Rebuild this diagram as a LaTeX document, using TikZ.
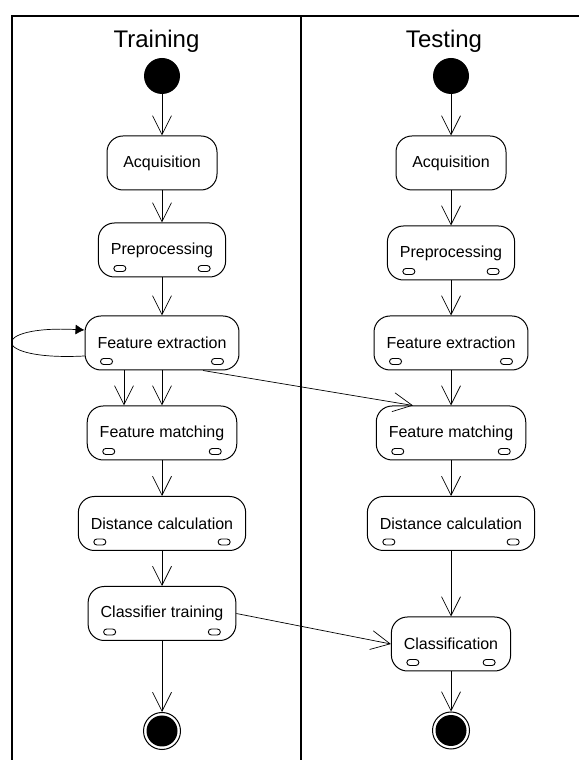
\documentclass[tikz,border=0pt]{standalone}
\usepackage{fontspec}
\setmainfont{Liberation Sans}
\usetikzlibrary{positioning,arrows.meta}
\tikzstyle{line} = [draw, line width=0.7pt, -{Straight Barb[length=19pt,width=19pt]}]
\tikzstyle{loopline} = [draw, line width=0.7pt, -{Latex[length=9pt,width=10pt]}]
\tikzstyle{activity} = [rectangle, draw, line width=1pt, rounded corners=16pt, minimum width=110pt, minimum height=54pt, inner xsep=12.5pt, font=\fontsize{16}{19}\selectfont, node distance=87pt]
\tikzstyle{startnode} = [circle, fill=black, minimum size=36pt, inner sep=0pt]
\tikzstyle{endnode} = [circle, draw, line width=1pt, minimum size=37pt, inner sep=0pt, path picture={\fill (path picture bounding box.center) circle (15.5pt);}]
\tikzstyle{lane} = [draw, line width=1.1pt]
\tikzstyle{title} = [anchor=base, font=\fontsize{24}{28}\selectfont]
\newcommand{\pins}[1]{%
  \draw[line width=0.9pt, rounded corners=3pt] ([shift={(16pt,6pt)}]#1.south west) rectangle +(12pt,6pt);
  \draw[line width=0.9pt, rounded corners=3pt] ([shift={(-28pt,6pt)}]#1.south east) rectangle +(12pt,6pt);}
\begin{document}
\begin{tikzpicture}[x=1pt, y=1pt]
		\useasboundingbox (0,0) rectangle (579,760);
		% swimlanes
		\path [lane] (12,0) -- (12,744) -- (579,744);
		\path [lane] (301,0) -- (301,744);
		\node [title] (trainTitle) at (156.5,712) {Training};
		\node [title] (testTitle) at (444,712) {Testing};
		
		% training column
		\node [startnode] (startL) at (162,684) {};
		\node [activity, below of=startL] (acqL) {Acquisition};
		\node [activity, below of=acqL] (prepL) {Preprocessing};
		\node [activity, below of=prepL, node distance=93pt] (featL) {Feature extraction};
		\node [activity, below of=featL, node distance=90pt] (matchL) {Feature matching};
		\node [activity, below of=matchL, node distance=90.5pt] (distL) {Distance calculation};
		\node [activity, below of=distL, node distance=90pt] (trainL) {Classifier training};
		\node [endnode, below of=trainL, node distance=117.5pt] (endL) {};
		
		% testing column
		\node [startnode] (startR) at (451,684) {};
		\node [activity, below of=startR] (acqR) {Acquisition};
		\node [activity, below of=acqR, node distance=90pt] (prepR) {Preprocessing};
		\node [activity, below of=prepR, node distance=90pt] (featR) {Feature extraction};
		\node [activity, below of=featR, node distance=90pt] (matchR) {Feature matching};
		\node [activity, below of=matchR, node distance=90.5pt] (distR) {Distance calculation};
		\node [activity, below of=distR, node distance=120.5pt] (classR) {Classification};
		\node [endnode, below of=classR, node distance=86.5pt] (endR) {};
		
		\foreach \n in {prepL,featL,matchL,distL,trainL,prepR,featR,matchR,distR,classR}
			\pins{\n};
		
		\path [line] (startL) to (acqL);
		\path [line] (acqL) to (prepL);
		\path [line] (prepL) to (featL);
		\path [line] ([xshift=-38pt]featL.south) to ([xshift=-38pt]matchL.north);
		\path [line] (featL) to (matchL);
		\path [line] (matchL) to (distL);
		\path [line] (distL) to (trainL);
		\path [line] (trainL) to (endL);
		\path [loopline] ([yshift=-13pt]featL.west) .. controls +(-96,-5) and +(-96,5) .. ([yshift=13pt]featL.west);
		
		\path [line] (startR) to (acqR);
		\path [line] (acqR) to (prepR);
		\path [line] (prepR) to (featR);
		\path [line] (featR) to (matchR);
		\path [line] (matchR) to (distR);
		\path [line] (distR) to (classR);
		\path [line] (classR) to (endR);
		
		% links between the lanes
		\path [line] ([xshift=41pt]featL.south) to ([xshift=-38pt]matchR.north);
		\path [line] (trainL.east) to (classR.west);
\end{tikzpicture}
\end{document}
